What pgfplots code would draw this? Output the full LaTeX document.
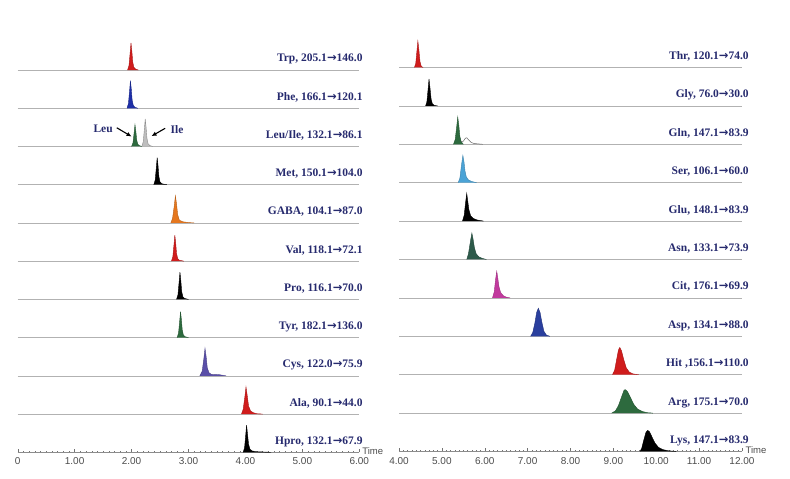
\documentclass[border=0pt]{standalone}
\usepackage{pgfplots}
\pgfplotsset{compat=1.18}
\usepackage{fontspec}
\setmainfont{Liberation Serif}
\setsansfont{Liberation Sans}
\newfontfamily\arrfont{DejaVu Sans}
\newcommand\ar{{\arrfont\bfseries →}}
\usetikzlibrary{arrows.meta}
\definecolor{lab}{RGB}{38,42,110}
\definecolor{cred}{RGB}{208,28,28}
\definecolor{cblue}{RGB}{30,47,168}
\definecolor{cgreen}{RGB}{45,106,62}
\definecolor{cgray}{RGB}{190,190,190}
\definecolor{corange}{RGB}{229,119,30}
\definecolor{cpurple}{RGB}{90,79,168}
\definecolor{cltblue}{RGB}{75,163,214}
\definecolor{cmag}{RGB}{194,58,158}
\definecolor{casp}{RGB}{42,63,158}
\definecolor{casn}{RGB}{45,90,74}
\definecolor{base}{RGB}{178,178,178}
\begin{document}
\begin{tikzpicture}
\path[use as bounding box] (0,0) rectangle (790pt,479pt);
\pgfplotsset{chrom/.style={scale only axis, axis x line*=bottom, axis y line=none,
  ymin=0, ymax=11, clip=false, no markers, tick align=inside,
  major tick length=3pt, minor tick length=1.5pt, minor x tick num=9,
  tick style={black!55, line width=0.4pt},
  axis line style={black!45, line width=0.6pt},
  xticklabel style={font=\sffamily\fontsize{10}{11}\selectfont, text=black!70, yshift=-2pt},
  every axis plot/.append style={line width=0.4pt}}}
\tikzset{lbl/.style={anchor=base east, font=\bfseries\fontsize{11.5}{12}\selectfont, text=lab, inner sep=0pt},
  tim/.style={anchor=west, font=\sffamily\fontsize{9.5}{10}\selectfont, text=black!70, inner sep=0pt}}
% ---------------- left panel ----------------
\begin{axis}[chrom, at={(17.7pt,26.7pt)}, anchor=south west, width=341.6pt, height=420.5pt,
  xmin=0, xmax=6, xtick={0,1,2,3,4,5,6}, xticklabels={0,1.00,2.00,3.00,4.00,5.00,6.00}]
\addplot[base, line width=0.6pt] coordinates {(0,1) (6,1)};
\addplot[base, line width=0.6pt] coordinates {(0,2) (6,2)};
\addplot[base, line width=0.6pt] coordinates {(0,3) (6,3)};
\addplot[base, line width=0.6pt] coordinates {(0,4) (6,4)};
\addplot[base, line width=0.6pt] coordinates {(0,5) (6,5)};
\addplot[base, line width=0.6pt] coordinates {(0,6) (6,6)};
\addplot[base, line width=0.6pt] coordinates {(0,7) (6,7)};
\addplot[base, line width=0.6pt] coordinates {(0,8) (6,8)};
\addplot[base, line width=0.6pt] coordinates {(0,9) (6,9)};
\addplot[base, line width=0.6pt] coordinates {(0,10) (6,10)};
% Trp
\addplot[fill=cred, draw=cred!80!black] coordinates {(1.93,10) (1.955,10.12) (1.975,10.447) (1.99,10.71) (2.005,10.497) (2.02,10.213) (2.04,10.071) (2.07,10.025) (2.12,10)};
% Phe
\addplot[fill=cblue, draw=cblue!80!black] coordinates {(1.92,9) (1.945,9.122) (1.965,9.454) (1.98,9.72) (1.995,9.504) (2.01,9.216) (2.03,9.072) (2.06,9.025) (2.11,9)};
% Leu / Ile
\addplot[fill=cgreen, draw=cgreen!80!black] coordinates {(2.00,8) (2.025,8.097) (2.045,8.359) (2.06,8.57) (2.075,8.399) (2.09,8.171) (2.11,8.057) (2.14,8.02) (2.18,8)};
\addplot[fill=cgray, draw=black!45] coordinates {(2.18,8) (2.205,8.122) (2.225,8.454) (2.24,8.72) (2.255,8.504) (2.27,8.216) (2.29,8.072) (2.32,8.025) (2.37,8)};
% Met
\addplot[fill=black, draw=black] coordinates {(2.39,7) (2.415,7.12) (2.435,7.447) (2.45,7.71) (2.465,7.497) (2.48,7.213) (2.50,7.071) (2.53,7.025) (2.62,7)};
% GABA
\addplot[fill=corange, draw=corange!80!black] coordinates {(2.69,6) (2.72,6.12) (2.75,6.447) (2.77,6.71) (2.79,6.497) (2.81,6.213) (2.84,6.071) (2.90,6.03) (3.00,6.01) (3.10,6)};
% Val
\addplot[fill=cred, draw=cred!80!black] coordinates {(2.70,5) (2.725,5.116) (2.745,5.428) (2.76,5.68) (2.775,5.476) (2.79,5.204) (2.81,5.068) (2.84,5.024) (2.92,5)};
% Pro
\addplot[fill=black, draw=black] coordinates {(2.79,4) (2.815,4.12) (2.835,4.447) (2.85,4.71) (2.865,4.497) (2.88,4.213) (2.90,4.071) (2.93,4.025) (3.00,4)};
% Tyr
\addplot[fill=cgreen, draw=cgreen!80!black] coordinates {(2.80,3) (2.825,3.116) (2.845,3.428) (2.86,3.68) (2.875,3.476) (2.89,3.204) (2.91,3.068) (2.94,3.024) (3.00,3)};
% Cys
\addplot[fill=cpurple, draw=cpurple!80!black] coordinates {(3.20,2) (3.24,2.12) (3.27,2.45) (3.29,2.72) (3.31,2.5) (3.33,2.21) (3.36,2.08) (3.40,2.04) (3.46,2.03) (3.52,2.035) (3.58,2.02) (3.66,2)};
% Ala
\addplot[fill=cred, draw=cred!80!black] coordinates {(3.93,1) (3.96,1.12) (3.99,1.45) (4.01,1.71) (4.03,1.5) (4.055,1.21) (4.09,1.08) (4.14,1.035) (4.20,1.01) (4.30,1)};
% Hpro
\addplot[fill=black, draw=black] coordinates {(3.96,0) (3.985,0.12) (4.005,0.45) (4.02,0.71) (4.035,0.5) (4.055,0.21) (4.08,0.08) (4.12,0.035) (4.2,0.015) (4.45,0)};
% labels
\node[lbl] at (axis cs:6.06,10.21) {Trp, 205.1\ar146.0};
\node[lbl] at (axis cs:6.06,9.21) {Phe, 166.1\ar120.1};
\node[lbl] at (axis cs:6.06,8.21) {Leu/Ile, 132.1\ar86.1};
\node[lbl] at (axis cs:6.06,7.21) {Met, 150.1\ar104.0};
\node[lbl] at (axis cs:6.06,6.21) {GABA, 104.1\ar87.0};
\node[lbl] at (axis cs:6.06,5.21) {Val, 118.1\ar72.1};
\node[lbl] at (axis cs:6.06,4.21) {Pro, 116.1\ar70.0};
\node[lbl] at (axis cs:6.06,3.21) {Tyr, 182.1\ar136.0};
\node[lbl] at (axis cs:6.06,2.21) {Cys, 122.0\ar75.9};
\node[lbl] at (axis cs:6.06,1.21) {Ala, 90.1\ar44.0};
\node[lbl] at (axis cs:6.06,0.21) {Hpro, 132.1\ar67.9};
\node[anchor=center, font=\bfseries\fontsize{11.5}{12}\selectfont, text=lab, inner sep=0pt] at (axis cs:1.50,8.46) {Leu};
\node[anchor=center, font=\bfseries\fontsize{11.5}{12}\selectfont, text=lab, inner sep=0pt] at (axis cs:2.80,8.44) {Ile};
\draw[-{Latex[length=5pt,width=4.5pt]}, line width=1.1pt] (axis cs:1.74,8.49) -- (axis cs:2.00,8.26);
\draw[-{Latex[length=5pt,width=4.5pt]}, line width=1.1pt] (axis cs:2.59,8.475) -- (axis cs:2.35,8.27);
\node[tim] at (axis cs:6.05,0.04) {Time};
\end{axis}
% ---------------- right panel ----------------
\begin{axis}[chrom, at={(399pt,27.5pt)}, anchor=south west, width=343pt, height=422.4pt,
  xmin=4, xmax=12, xtick={4,5,6,7,8,9,10,11,12}, xticklabels={4.00,5.00,6.00,7.00,8.00,9.00,10.00,11.00,12.00}]
\addplot[base, line width=0.6pt] coordinates {(4,1) (12,1)};
\addplot[base, line width=0.6pt] coordinates {(4,2) (12,2)};
\addplot[base, line width=0.6pt] coordinates {(4,3) (12,3)};
\addplot[base, line width=0.6pt] coordinates {(4,4) (12,4)};
\addplot[base, line width=0.6pt] coordinates {(4,5) (12,5)};
\addplot[base, line width=0.6pt] coordinates {(4,6) (12,6)};
\addplot[base, line width=0.6pt] coordinates {(4,7) (12,7)};
\addplot[base, line width=0.6pt] coordinates {(4,8) (12,8)};
\addplot[base, line width=0.6pt] coordinates {(4,9) (12,9)};
\addplot[base, line width=0.6pt] coordinates {(4,10) (12,10)};
% Thr
\addplot[fill=cred, draw=cred!80!black] coordinates {(4.36,10) (4.39,10.1) (4.42,10.45) (4.44,10.69) (4.46,10.5) (4.49,10.15) (4.52,10.03) (4.56,10)};
% Gly
\addplot[fill=black, draw=black] coordinates {(4.62,9) (4.65,9.1) (4.68,9.45) (4.70,9.70) (4.72,9.5) (4.75,9.17) (4.78,9.05) (4.83,9.01) (4.9,9)};
% Gln
\addplot[fill=cgreen, draw=cgreen!80!black] coordinates {(5.27,8) (5.31,8.12) (5.345,8.45) (5.37,8.71) (5.395,8.5) (5.42,8.2) (5.45,8.07) (5.50,8)};
\addplot[black!60, line width=0.5pt] coordinates {(5.45,8.07) (5.50,8.08) (5.55,8.16) (5.58,8.17) (5.62,8.12) (5.68,8.05) (5.75,8.02) (5.85,8.01) (5.95,8)};
% Ser
\addplot[fill=cltblue, draw=cltblue!80!black] coordinates {(5.38,7) (5.42,7.12) (5.46,7.48) (5.49,7.71) (5.515,7.55) (5.54,7.3) (5.57,7.15) (5.62,7.07) (5.70,7.03) (5.81,7)};
% Glu
\addplot[fill=black, draw=black] coordinates {(5.48,6) (5.52,6.15) (5.555,6.5) (5.58,6.72) (5.60,6.55) (5.63,6.3) (5.67,6.14) (5.73,6.07) (5.82,6.03) (5.97,6)};
% Asn
\addplot[fill=casn, draw=casn!80!black] coordinates {(5.58,5) (5.62,5.15) (5.67,5.5) (5.70,5.69) (5.725,5.55) (5.76,5.3) (5.80,5.15) (5.86,5.07) (5.94,5.03) (6.04,5)};
% Cit
\addplot[fill=cmag, draw=cmag!80!black] coordinates {(6.18,4) (6.22,4.15) (6.255,4.5) (6.28,4.69) (6.30,4.55) (6.33,4.3) (6.37,4.14) (6.43,4.06) (6.50,4.02) (6.59,4)};
% Asp
\addplot[fill=casp, draw=casp!80!black] coordinates {(7.07,3) (7.12,3.1) (7.17,3.35) (7.21,3.62) (7.25,3.73) (7.29,3.62) (7.33,3.38) (7.38,3.13) (7.44,3.03) (7.52,3)};
% Hit
\addplot[fill=cred, draw=cred!80!black] coordinates {(8.98,2) (9.03,2.12) (9.08,2.42) (9.12,2.65) (9.15,2.71) (9.19,2.62) (9.24,2.4) (9.30,2.18) (9.37,2.07) (9.46,2.02) (9.59,2)};
% Arg
\addplot[fill=cgreen, draw=cgreen!80!black] coordinates {(8.96,1) (9.05,1.06) (9.12,1.2) (9.20,1.45) (9.25,1.6) (9.28,1.61) (9.33,1.56) (9.40,1.4) (9.48,1.22) (9.57,1.1) (9.68,1.04) (9.80,1.01) (9.92,1)};
% Lys
\addplot[fill=black, draw=black] coordinates {(9.62,0) (9.66,0.08) (9.71,0.3) (9.76,0.5) (9.80,0.55) (9.84,0.52) (9.90,0.38) (9.97,0.22) (10.05,0.11) (10.15,0.05) (10.28,0.02) (10.47,0)};
% labels
\node[lbl] at (axis cs:12.16,10.21) {Thr, 120.1\ar74.0};
\node[lbl] at (axis cs:12.16,9.21) {Gly, 76.0\ar30.0};
\node[lbl] at (axis cs:12.16,8.21) {Gln, 147.1\ar83.9};
\node[lbl] at (axis cs:12.16,7.21) {Ser, 106.1\ar60.0};
\node[lbl] at (axis cs:12.16,6.21) {Glu, 148.1\ar83.9};
\node[lbl] at (axis cs:12.16,5.21) {Asn, 133.1\ar73.9};
\node[lbl] at (axis cs:12.16,4.21) {Cit, 176.1\ar69.9};
\node[lbl] at (axis cs:12.16,3.21) {Asp, 134.1\ar88.0};
\node[lbl] at (axis cs:12.16,2.21) {Hit ,156.1\ar110.0};
\node[lbl] at (axis cs:12.16,1.21) {Arg, 175.1\ar70.0};
\node[lbl] at (axis cs:12.16,0.21) {Lys, 147.1\ar83.9};
\node[tim] at (axis cs:12.08,0.04) {Time};
\end{axis}
\end{tikzpicture}
\end{document}
